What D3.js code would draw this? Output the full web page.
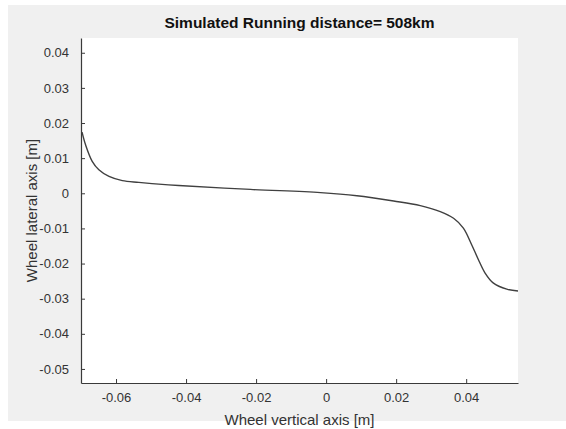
<!DOCTYPE html>
<html>
<head>
<meta charset="utf-8">
<script src="https://cdn.jsdelivr.net/npm/d3@7/dist/d3.min.js"></script>
<style>
html,body{margin:0;padding:0;background:#fff;}
svg{display:block;font-family:"Liberation Sans",Arial,sans-serif;}
</style>
</head>
<body>
<script>
const title = "Simulated Running distance= 508km";
const xLabel = "Wheel vertical axis [m]";
const yLabel = "Wheel lateral axis [m]";
const xTicks = [-0.06, -0.04, -0.02, 0, 0.02, 0.04];
const yTicks = [0.04, 0.03, 0.02, 0.01, 0, -0.01, -0.02, -0.03, -0.04, -0.05];
const xDomain = [-0.07, 0.0548];
const yDomain = [-0.054, 0.0442];
const xVals = [-0.0697, -0.0687, -0.0668, -0.0649, -0.062, -0.0582, -0.0535, -0.0478, -0.0421, -0.0216, -0.0016, 0.0088, 0.0193, 0.0269, 0.0326, 0.0364, 0.0392, 0.0416, 0.0435, 0.0454, 0.0477, 0.0516, 0.0548];
const yVals = [0.0174, 0.0138, 0.0091, 0.0067, 0.0048, 0.0036, 0.0031, 0.0026, 0.0022, 0.0011, 0.0002, -0.0007, -0.0022, -0.0035, -0.0052, -0.0071, -0.0099, -0.0147, -0.0189, -0.0227, -0.0255, -0.0273, -0.0278];

const W = 566, H = 429;
const m = {left: 81, right: 566 - 518, top: 38, bottom: 429 - 383};
const svg = d3.select("body").append("svg").attr("width", W).attr("height", H);
svg.append("rect").attr("x", 8).attr("y", 5).attr("width", W - 8).attr("height", 416).attr("fill", "#f0f0f0");

const x = d3.scaleLinear().domain(xDomain).range([m.left, W - m.right]);
const y = d3.scaleLinear().domain(yDomain).range([H - m.bottom, m.top]);

svg.append("rect").attr("x", m.left).attr("y", m.top)
  .attr("width", W - m.right - m.left).attr("height", H - m.bottom - m.top).attr("fill", "#fff");

const fmt = d => d === 0 ? "0" : d3.format(".2f")(d).replace("−", "-");

const gx = svg.append("g").attr("transform", `translate(0,${H - m.bottom})`)
  .call(d3.axisBottom(x).tickValues(xTicks).tickSizeInner(-4).tickSizeOuter(0).tickPadding(10).tickFormat(fmt));
const gy = svg.append("g").attr("transform", `translate(${m.left},0)`)
  .call(d3.axisLeft(y).tickValues(yTicks).tickSizeInner(-4).tickSizeOuter(0).tickPadding(12).tickFormat(fmt));
[gx, gy].forEach(g => {
  g.select(".domain").attr("stroke", "#3a3a3a").attr("stroke-width", 1.2);
  g.selectAll(".tick line").attr("stroke", "#3a3a3a");
  g.selectAll(".tick text").attr("fill", "#333").style("font-size", "13px");
});

const pts = xVals.map((v, i) => [v, yVals[i]]);
svg.append("path").datum(pts)
  .attr("fill", "none").attr("stroke", "#404040").attr("stroke-width", 1.4)
  .attr("d", d3.line().x(d => x(d[0])).y(d => y(d[1])).curve(d3.curveCatmullRom.alpha(0.5)));

svg.append("text").attr("x", (m.left + W - m.right) / 2).attr("y", 28)
  .attr("text-anchor", "middle").attr("font-weight", "bold").attr("font-size", "15.5px").attr("fill", "#111").text(title);
svg.append("text").attr("x", (m.left + W - m.right) / 2).attr("y", 425)
  .attr("text-anchor", "middle").attr("font-size", "15px").attr("fill", "#333").text(xLabel);
svg.append("text").attr("transform", `translate(37,${(m.top + H - m.bottom) / 2}) rotate(-90)`)
  .attr("text-anchor", "middle").attr("font-size", "15px").attr("fill", "#333").text(yLabel);
</script>
</body>
</html>
